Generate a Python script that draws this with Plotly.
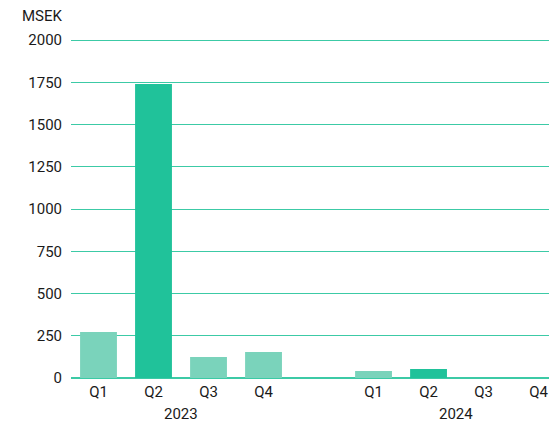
import plotly.graph_objects as go

quarters = ["Q1", "Q2", "Q3", "Q4", "Q1", "Q2", "Q3", "Q4"]
years = ["2023", "2024"]
values = [272, 1740, 124, 154, 41, 53, 0, 0]
slot_positions = [0, 1, 2, 3, 5, 6, 7, 8]
highlight = [False, True, False, False, False, True, False, False]
y_ticks = [0, 250, 500, 750, 1000, 1250, 1500, 1750, 2000]

LIGHT = "#7ad3bb"
DARK = "#20c29a"
GRID = "#3ccaa6"
FONT = "Roboto"
TXT = "#1a1a1a"
FS = 15

colors = [DARK if h else LIGHT for h in highlight]

fig = go.Figure()
fig.add_trace(go.Bar(
    x=slot_positions, y=values, marker_color=colors, marker_line_width=0,
    width=0.67, hoverinfo="skip",
))

fig.update_layout(
    width=549, height=422,
    margin=dict(l=71, r=0, t=39, b=44),
    plot_bgcolor="white", paper_bgcolor="white",
    font=dict(family=FONT, size=FS, color=TXT),
    showlegend=False,
    xaxis=dict(
        range=[-0.5, 8.19], tickmode="array", tickvals=slot_positions,
        ticktext=quarters, showgrid=False, zeroline=False, showline=False,
        ticks="", ticklabelstandoff=3, tickfont=dict(size=FS, color=TXT),
    ),
    yaxis=dict(
        range=[0, 2006], tickmode="array", tickvals=y_ticks,
        showgrid=True, gridcolor=GRID, gridwidth=1,
        zeroline=True, zerolinecolor=GRID, zerolinewidth=1.5,
        ticks="", ticklabelstandoff=8, tickfont=dict(size=FS, color=TXT),
    ),
)

# year labels centered under each group of quarters
groups = [slot_positions[0:4], slot_positions[4:8]]
for yr, g in zip(years, groups):
    fig.add_annotation(
        x=(g[0] + g[-1]) / 2, y=0, xref="x", yref="y",
        text=yr, showarrow=False, yanchor="top", yshift=-25,
        font=dict(family=FONT, size=FS, color=TXT),
    )

fig.add_annotation(
    x=0, y=1, xref="paper", yref="paper", xanchor="right", yanchor="bottom",
    text="MSEK", showarrow=False, xshift=-6, yshift=12,
    font=dict(family=FONT, size=FS, color=TXT),
)

fig.write_html(
    "out.html",
    config={"displayModeBar": False},
    post_script="document.body.style.margin='0';document.body.style.overflow='hidden';",
)
